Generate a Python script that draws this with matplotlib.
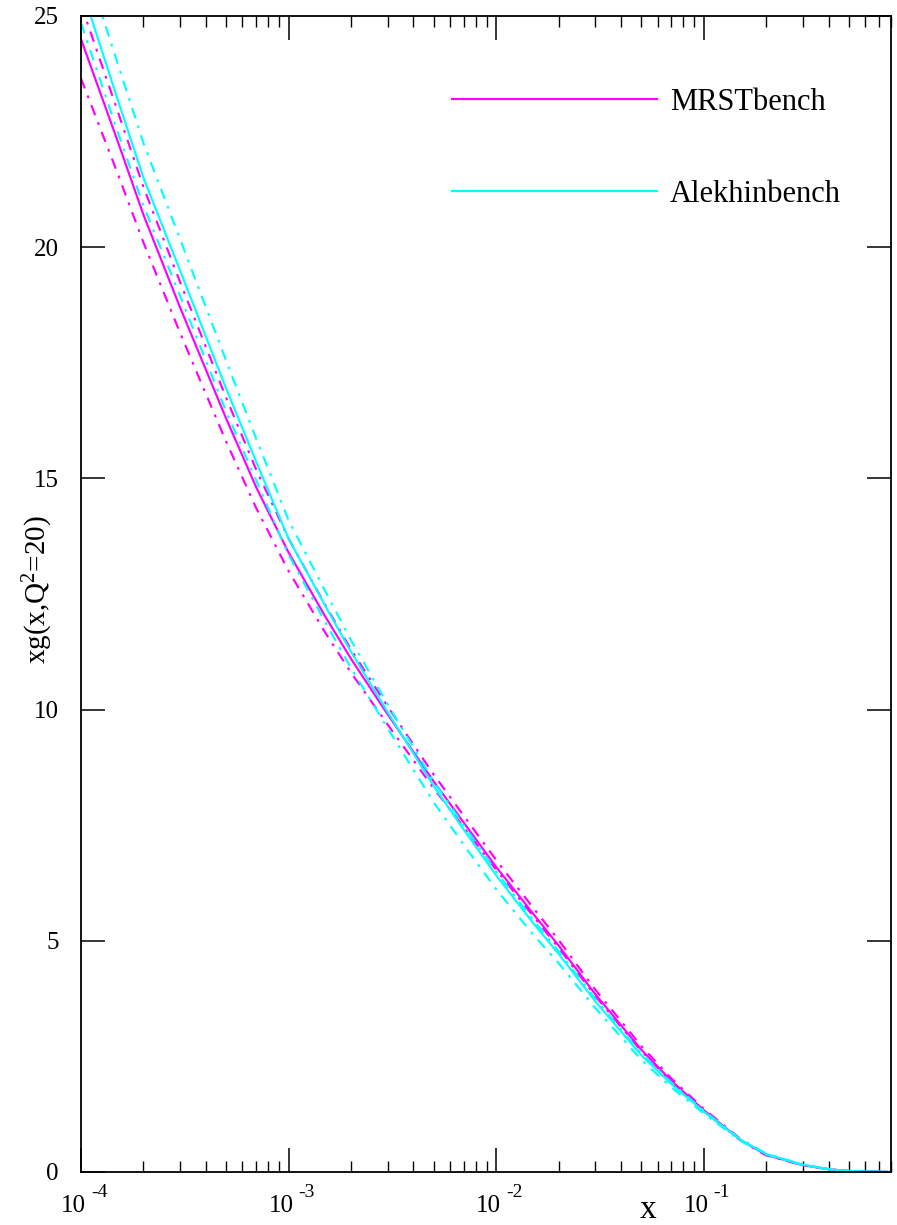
import matplotlib
matplotlib.use("Agg")
import matplotlib.pyplot as plt
from matplotlib.ticker import FixedLocator, NullFormatter
import numpy as np

plt.rcParams['font.family'] = ['Liberation Serif', 'DejaVu Serif']
plt.rcParams['mathtext.fontset'] = 'custom'
plt.rcParams['mathtext.rm'] = 'Liberation Serif'
plt.rcParams['mathtext.it'] = 'Liberation Serif:italic'

# ---- data ----
x = [1e-4, 1.5e-4, 2e-4, 3e-4, 5e-4, 7e-4, 1e-3, 1.5e-3, 2e-3, 3e-3, 5e-3, 7e-3,
     1e-2, 1.5e-2, 2e-2, 3e-2, 5e-2, 7e-2, 0.1, 0.15, 0.2, 0.25, 0.3, 0.4, 0.5, 0.8]

mrst_central = [24.5, 22.3, 20.7, 18.7, 16.3, 14.8, 13.4, 12.02, 11.1, 9.9, 8.45, 7.55,
                6.6, 5.6, 4.9, 3.85, 2.65, 1.97, 1.34, 0.7, 0.37, 0.25, 0.15, 0.06, 0.02, 0.0]
mrst_low = [23.65, 21.6, 20.1, 18.15, 15.8, 14.35, 13.0, 11.67, 10.8, 9.68, 8.3, 7.45,
            6.54, 5.55, 4.85, 3.81, 2.62, 1.95, 1.32, 0.69, 0.36, 0.245, 0.145, 0.06, 0.02, 0.0]
mrst_high = [25.25, 22.95, 21.3, 19.25, 16.75, 15.18, 13.7, 12.27, 11.3, 10.07, 8.6, 7.7,
             6.75, 5.73, 5.02, 3.95, 2.73, 2.02, 1.37, 0.72, 0.38, 0.26, 0.155, 0.06, 0.02, 0.0]

alek_central = [25.65, 23.2, 21.5, 19.5, 16.95, 15.35, 13.7, 12.25, 11.25, 9.95, 8.35, 7.4,
                6.42, 5.4, 4.72, 3.7, 2.53, 1.9, 1.31, 0.7, 0.39, 0.26, 0.16, 0.06, 0.02, 0.0]
alek_low = [24.85, 22.5, 20.9, 18.95, 16.45, 14.95, 13.35, 11.9, 10.9, 9.6, 8.0, 7.07,
            6.12, 5.15, 4.52, 3.55, 2.43, 1.83, 1.27, 0.68, 0.38, 0.25, 0.155, 0.06, 0.02, 0.0]
alek_high = [26.45, 23.98, 22.25, 20.18, 17.55, 15.85, 14.1, 12.57, 11.5, 10.12, 8.45, 7.49,
             6.5, 5.47, 4.78, 3.75, 2.57, 1.93, 1.33, 0.71, 0.40, 0.265, 0.165, 0.06, 0.02, 0.0]

labels = ["MRSTbench", "Alekhinbench"]
colors = ["#ff00ff", "#00ffff"]
yticks = [0, 5, 10, 15, 20, 25]
xmajor = [1e-4, 1e-3, 1e-2, 1e-1]
xmajor_exp = ["-4", "-3", "-2", "-1"]

# ---- figure ----
fig = plt.figure(figsize=(8.97, 12.25), dpi=100)
ax = fig.add_axes([81/897, 53/1225, 810/897, 1156/1225])

dashdot = (0, (5, 3.5, 1.3, 3.5))
lw = 1.55
ax.plot(x, mrst_central, color=colors[0], lw=lw)
ax.plot(x, mrst_low, color=colors[0], lw=lw, ls=dashdot)
ax.plot(x, mrst_high, color=colors[0], lw=lw, ls=dashdot)
ax.plot(x, alek_central, color=colors[1], lw=lw)
ax.plot(x, alek_low, color=colors[1], lw=lw, ls=dashdot)
ax.plot(x, alek_high, color=colors[1], lw=lw, ls=dashdot)

ax.set_xscale('log')
ax.set_xlim(1e-4, 0.8)
ax.set_ylim(0, 25)

for s in ax.spines.values():
    s.set_linewidth(1.3)

ax.xaxis.set_major_locator(FixedLocator(xmajor))
minors = [m * 10.0**e for e in range(-4, 0) for m in range(2, 10)]
ax.xaxis.set_minor_locator(FixedLocator([v for v in minors if v <= 0.8]))
ax.xaxis.set_minor_formatter(NullFormatter())
ax.xaxis.set_major_formatter(NullFormatter())
ax.set_yticks(yticks)
ax.set_yticklabels([str(t) for t in yticks])

ax.tick_params(axis='x', which='major', direction='in', length=17, width=1.1, top=True)
ax.tick_params(axis='x', which='minor', direction='in', length=8, width=1.0, top=True)
ax.tick_params(axis='y', which='major', direction='in', length=17, width=1.1,
               right=True, labelsize=18, pad=16)

# x tick labels in the "10 ^-n" style of the reference
for xv, ex in zip(xmajor, xmajor_exp):
    ax.annotate("10", xy=(xv, 0), xycoords=('data', 'axes fraction'),
                xytext=(5, -40), textcoords='offset pixels',
                ha='right', va='baseline', fontsize=18, annotation_clip=False)
    ax.annotate(ex, xy=(xv, 0), xycoords=('data', 'axes fraction'),
                xytext=(10, -25), textcoords='offset pixels',
                ha='left', va='baseline', fontsize=14, annotation_clip=False)

ax.set_ylabel(r'xg(x,Q$^{\mathregular{2}}$=20)', fontsize=21)
ax.yaxis.set_label_coords(-0.032, 0.504)
ax.set_xlabel('x', fontsize=24)
ax.xaxis.label.set_va('baseline')
ax.xaxis.set_label_coords(0.70, -0.0398)

# legend drawn in axes coordinates
for yy, yb, lab, col in zip([0.928, 0.849], [0.9187, 0.8391], labels, colors):
    ax.plot([0.458, 0.711], [yy, yy], color=col, lw=lw, transform=ax.transAxes)
    ax.text(0.727, yb, lab, transform=ax.transAxes, fontsize=22,
            va='baseline', ha='left')

fig.savefig("out.png", dpi=100)
